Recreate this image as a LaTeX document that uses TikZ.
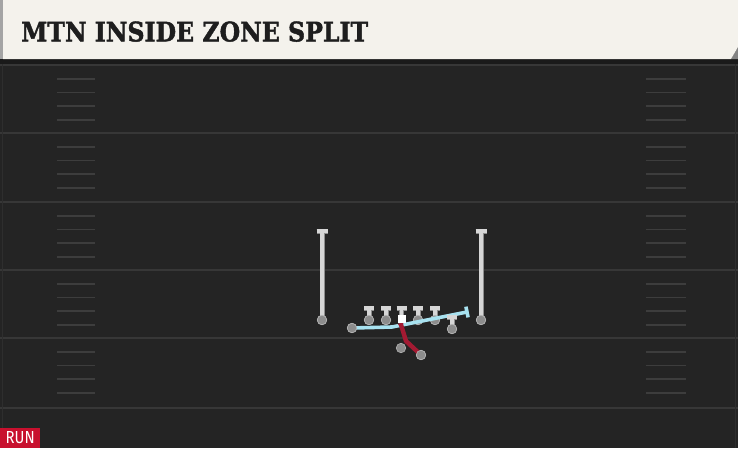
\documentclass[tikz,border=0pt]{standalone}
\usepackage{fontspec}
\usetikzlibrary{arrows.meta,calc}
\newfontfamily\titlefont[BoldFeatures={FakeBold=1.6}]{DejaVu Serif}
\newfontfamily\runfont{Fira Sans}
\definecolor{field}{HTML}{242424}
\definecolor{fielddark}{HTML}{1A1A1A}
\definecolor{yardline}{HTML}{373737}
\definecolor{hashc}{HTML}{3D3D3D}
\definecolor{edgec}{HTML}{2E2E2E}
\definecolor{cream}{HTML}{F4F2EC}
\definecolor{creamedge}{HTML}{A4A4A4}
\definecolor{titlec}{HTML}{1E1E1E}
\definecolor{runred}{HTML}{C8102E}
\definecolor{plgray}{HTML}{8C8C8C}
\definecolor{plrim}{HTML}{B4B4B4}
\definecolor{tfill}{HTML}{D6D6D6}
\definecolor{tline}{HTML}{8E8E8E}
\definecolor{blockblue}{HTML}{A8E2F0}
\definecolor{routered}{HTML}{A31A32}
\tikzset{
  yard/.style={draw=yardline, line width=1.8pt},
  hashmark/.style={draw=hashc, line width=1.8pt},
  player/.style={circle, fill=plgray, draw=plrim, line width=0.6pt, inner sep=0pt, minimum size=9.5pt},
  centerbox/.style={rectangle, fill=white, inner sep=0pt, minimum width=8pt, minimum height=8.5pt},
  teeunder/.style={draw=tline, line width=5pt},
  teeover/.style={draw=tfill, line width=3.6pt},
  blockline/.style={draw=blockblue, line width=3.6pt, line join=round},
  runline/.style={draw=routered, line width=4.4pt, line join=round},
}
% \teeshape{player node}{top coordinate}{bar half width}
\newcommand{\teeshape}[3]{%
  \draw[teeunder] (#1.center) -- (#2);
  \draw[teeunder] ($(#2)+(-#3,0)$) -- ($(#2)+(#3,0)$);
  \draw[teeover] (#1.center) -- (#2);
  \draw[teeover] ($(#2)+(-#3,0)$) -- ($(#2)+(#3,0)$);
}
\begin{document}
\begin{tikzpicture}[x=1pt,y=-1pt]
\useasboundingbox (0,0) rectangle (738,448);
% field
\fill[field] (0,0) rectangle (738,448);
\fill[fielddark] (0,59) rectangle (738,64);
\foreach \yy in {65,133,202,270,338,408}
  \draw[yard] (0,\yy) -- (738,\yy);
\draw[draw=edgec, line width=1.2pt] (2.5,64) -- (2.5,448);
\draw[draw=edgec, line width=1.2pt] (735.5,64) -- (735.5,448);
\foreach \yy in {65,133,202,270,338}
  \foreach \k in {1,2,3,4} {
    \draw[hashmark] (57,\yy+13.7*\k) -- (95,\yy+13.7*\k);
    \draw[hashmark] (646,\yy+13.7*\k) -- (686,\yy+13.7*\k);
  }
% header
\fill[creamedge] (0,0) rectangle (3.5,59);
\fill[creamedge!80!black] (731,59) -- (738,47) -- (738,59) -- cycle;
\fill[cream] (3,0) -- (738,0) -- (738,47) -- (731,59) -- (3,59) -- cycle;
\node[anchor=south west, inner sep=0pt, text=titlec] (title) at (21,42)
  {\resizebox{347pt}{20pt}{\titlefont\bfseries MTN INSIDE ZONE SPLIT}};
% run tag
\node[fill=runred, anchor=south west, minimum width=40pt, minimum height=20pt, inner sep=0pt, text=white] (runtag) at (0,448)
  {\resizebox{29pt}{12pt}{\runfont RUN}};
% receivers
\node[player] (wrl) at (322,320) {};
\coordinate (wrltop) at (322,231);
\node[player] (wrr) at (481,320) {};
\coordinate (wrrtop) at (481,231);
\teeshape{wrl}{wrltop}{5.5}
\teeshape{wrr}{wrrtop}{5.5}
\node[player] (wrl2) at (322,320) {};
\node[player] (wrr2) at (481,320) {};
% offensive line
\node[player] (lt) at (369,320) {};
\node[player] (lg) at (386,320) {};
\coordinate (c) at (401.5,319);
\node[player] (rg) at (418,320) {};
\node[player] (rt) at (435,320) {};
\coordinate (lttop) at (369,308);
\coordinate (lgtop) at (386,308);
\coordinate (ctop) at (401.5,308);
\coordinate (rgtop) at (418,308);
\coordinate (rttop) at (435,308);
\teeshape{lt}{lttop}{5}
\teeshape{lg}{lgtop}{5}
\teeshape{c}{ctop}{5}
\teeshape{rg}{rgtop}{5}
\teeshape{rt}{rttop}{5}
\node[player] (lt2) at (369,320) {};
\node[player] (lg2) at (386,320) {};
\node[player] (rg2) at (418,320) {};
\node[player] (rt2) at (435,320) {};
% split blocker
\node[player] (hb) at (352,328) {};
\coordinate (bend) at (392,327);
\coordinate (blk) at (467,312);
\draw[blockline] (hb.center) -- (bend) -- (blk);
\draw[blockline] ($(blk)!5.5pt!90:(bend)$) -- ($(blk)!5.5pt!-90:(bend)$);
\node[player] (hb2) at (352,328) {};
% tight end
\node[player] (te) at (452,329) {};
\coordinate (tetop) at (452,317);
\teeshape{te}{tetop}{5}
\node[player] (te2) at (452,329) {};
% backs
\node[player] (qb) at (401,348) {};
\node[player] (rb) at (421,355) {};
\coordinate (mesh) at (406,341);
\coordinate (hand) at (400.5,323);
\draw[runline, -{Arc Barb[length=2.5pt, width=8.5pt]}] (rb.center) -- (mesh) -- (hand);
\node[player] (rb2) at (421,355) {};
% center
\node[centerbox] (ctr) at (c) {};
\end{tikzpicture}
\end{document}
